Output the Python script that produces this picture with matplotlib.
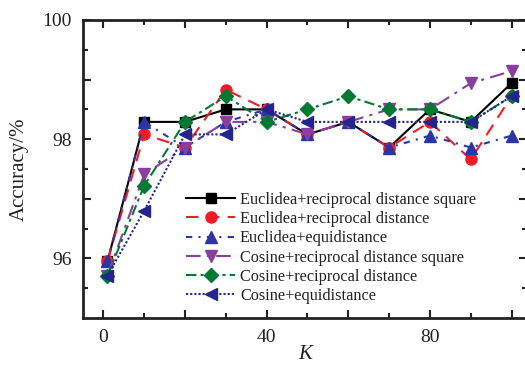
import numpy as np
import matplotlib
matplotlib.use('Agg')
import matplotlib.pyplot as plt

plt.rcParams['font.family'] = ['Liberation Serif', 'DejaVu Serif']
plt.rcParams['mathtext.fontset'] = 'stix'

# K values
k = [1, 10, 20, 30, 40, 50, 60, 70, 80, 90, 100]

# accuracy (%) for each method
euc_sq = [95.95, 98.29, 98.29, 98.50, 98.50, 98.08, 98.29, 97.86, 98.50, 98.29, 98.94]
euc_rec = [95.95, 98.08, 97.86, 98.83, 98.50, 98.08, 98.29, 97.86, 98.29, 97.66, 98.72]
euc_eq = [95.95, 98.29, 97.86, 98.29, 98.50, 98.08, 98.29, 97.86, 98.06, 97.86, 98.06]
cos_sq = [95.71, 97.41, 97.86, 98.29, 98.29, 98.08, 98.29, 98.50, 98.50, 98.94, 99.14]
cos_rec = [95.71, 97.22, 98.29, 98.72, 98.29, 98.50, 98.72, 98.50, 98.50, 98.29, 98.72]
cos_eq = [95.71, 96.80, 98.08, 98.08, 98.50, 98.29, 98.29, 98.29, 98.29, 98.29, 98.72]

labels = ['Euclidea+reciprocal distance square',
          'Euclidea+reciprocal distance',
          'Euclidea+equidistance',
          'Cosine+reciprocal distance square',
          'Cosine+reciprocal distance',
          'Cosine+equidistance']

fig = plt.figure(figsize=(5.25, 3.69), dpi=100)
ax = fig.add_axes([0.158, 0.138, 0.846, 0.808])

ax.plot(k, euc_sq, color='black', linestyle='-', marker='s', markersize=7,
        linewidth=1.5, label=labels[0])
ax.plot(k, euc_rec, color='#f01c24', linestyle=(0, (6, 4)), marker='o', markersize=8,
        linewidth=1.5, label=labels[1])
ax.plot(k, euc_eq, color='#2a35a8', linestyle=(0, (3, 3, 1, 3)), marker='^', markersize=9,
        linewidth=1.5, label=labels[2])
ax.plot(k, cos_sq, color='#8a3fa0', linestyle=(0, (7, 3, 1.5, 3)), marker='v', markersize=9,
        linewidth=1.5, label=labels[3])
ax.plot(k, cos_rec, color='#007a33', linestyle=(0, (5, 2, 1.5, 2)), marker='D', markersize=7,
        linewidth=1.5, label=labels[4])
ax.plot(k, cos_eq, color='#23248c', linestyle=(0, (1, 1)), marker='<', markersize=9,
        linewidth=1.5, label=labels[5])

ax.set_xlim(-5, 103.8)
ax.set_ylim(95.0, 100)

ax.set_xticks([0, 20, 40, 60, 80, 100])
ax.set_xticklabels(['0', '', '40', '', '80', ''])
ax.set_xticks(np.arange(10, 100, 20), minor=True)
ax.set_yticks([96, 97, 98, 99, 100])
ax.set_yticklabels(['96', '', '98', '', '100'])
ax.set_yticks(np.arange(95.5, 100, 1.0), minor=True)

ax.tick_params(which='both', direction='in', top=True, right=True,
               labelsize=14, width=1.5, colors='#222222', pad=8)
ax.tick_params(which='major', length=6)
ax.tick_params(which='minor', length=3.5)
for s in ax.spines.values():
    s.set_linewidth(2)
    s.set_color('#222222')

ax.set_ylabel('Accuracy/%', fontsize=15, color='#222222', labelpad=10)
ax.set_xlabel('K', fontsize=15, style='italic', color='#222222', labelpad=-1)

ax.legend(loc='upper left', bbox_to_anchor=(0.218, 0.445), frameon=False,
          fontsize=11.7, handlelength=3, handletextpad=0.3, labelspacing=0.2,
          borderaxespad=0, labelcolor='#222222')

plt.savefig('out.png', dpi=100)
